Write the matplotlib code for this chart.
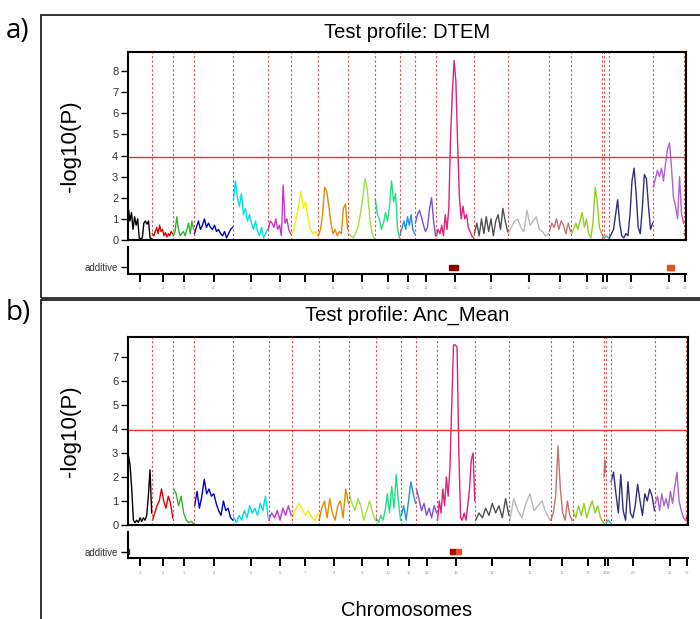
import numpy as np
import matplotlib.pyplot as plt
from matplotlib.patches import Rectangle

plt.rcParams['font.family'] = ['Liberation Sans', 'DejaVu Sans']

# chromosome lengths (cM-like units) and colours
chrom_names = [str(i) for i in range(1, 23)]
chrom_len = [120, 105, 105, 195, 175, 115, 135, 150, 135, 125, 75,
             105, 190, 170, 205, 110, 155, 10, 25, 220, 155, 10]
chrom_col = ['#000000', '#e00000', '#30b030', '#0000c8', '#00e0e0', '#d030d0',
             '#f0f000', '#e08a00', '#a0e040', '#20e080', '#2090e0', '#7a50d0',
             '#e0207a', '#505050', '#b8b8b8', '#c87070', '#90d020', '#a08060',
             '#20c0c0', '#30307a', '#b060d0', '#800000']

# -log10(P) profile, panel a (DTEM), one list per chromosome
dtem_lod = [
    [1.5, 0.9, 1.3, 0.5, 1.1, 0.7, 1.0, 0.1, 0.05, 0.1, 0.8, 0.9, 0.75, 0.9, 0.1, 0.05],
    [0.3, 0.2, 0.4, 0.6, 0.3, 0.7, 0.4, 0.5, 0.2, 0.35, 0.15, 0.3, 0.2, 0.4, 0.3],
    [0.2, 0.4, 1.1, 0.5, 0.2, 0.3, 0.4, 0.2, 0.5, 0.8, 0.3, 0.9, 0.5],
    [0.3, 0.6, 0.9, 0.5, 0.7, 1.0, 0.6, 0.8, 0.6, 0.5, 0.7, 0.4, 0.5, 0.3, 0.2,
     0.4, 0.1, 0.3, 0.5, 0.6],
    [1.9, 2.8, 2.0, 1.6, 2.2, 1.2, 1.5, 0.9, 1.2, 0.8, 0.5, 0.9, 0.4, 0.2, 0.6,
     0.1, 0.3, 0.5],
    [0.5, 0.9, 0.8, 0.6, 1.0, 0.5, 0.7, 0.2, 2.6, 0.8, 1.0, 0.5, 0.3],
    [0.2, 0.5, 1.0, 1.6, 2.3, 1.5, 1.8, 1.0, 0.5, 0.3, 0.4, 0.2],
    [0.2, 0.5, 1.2, 2.5, 2.3, 1.6, 0.8, 0.3, 0.5, 0.2, 0.4, 0.3, 1.5, 1.7, 0.5],
    [0.3, 0.2, 0.1, 0.3, 0.6, 1.2, 2.0, 2.9, 2.3, 1.0, 0.3, 0.0],
    [1.9, 1.2, 1.0, 0.5, 0.8, 1.3, 0.9, 1.6, 2.8, 1.8, 2.2, 0.5, 0.1],
    [0.3, 0.6, 0.9, 0.5, 1.1, 0.7, 1.2, 0.5, 0.3],
    [0.8, 1.2, 1.4, 1.1, 0.7, 0.4, 0.6, 1.5, 2.0, 0.9, 0.2],
    [0.2, 0.5, 0.3, 0.7, 0.2, 1.2, 0.5, 1.5, 4.9, 7.0, 8.5, 7.5, 4.5, 2.0, 1.0,
     1.6, 1.0, 1.2, 0.6, 0.4, 0.2, 0.1],
    [0.3, 0.8, 0.2, 1.0, 0.3, 1.1, 0.4, 1.0, 0.2, 0.9, 1.2, 0.5, 1.5, 0.9, 0.4],
    [0.3, 0.6, 0.9, 1.0, 0.6, 0.4, 1.4, 0.7, 0.9, 1.1, 0.5, 0.4, 0.2, 0.3],
    [0.4, 0.8, 0.6, 1.0, 0.5, 0.9, 0.7, 0.3, 0.8, 0.4],
    [0.3, 0.5, 0.8, 0.5, 0.9, 1.3, 0.6, 1.0, 0.3, 0.1, 0.8, 2.5, 1.8, 0.6, 0.3],
    [0.1, 0.15],
    [0.1, 0.2, 0.1],
    [0.1, 0.3, 0.5, 1.2, 1.9, 0.8, 0.2, 0.1, 0.3, 0.2, 1.2, 2.8, 3.4, 2.2, 0.6,
     0.3, 1.5, 3.1, 2.9, 1.6, 0.5, 0.8],
    [2.5, 2.9, 3.3, 3.0, 3.4, 2.8, 3.6, 4.3, 4.6, 3.4, 2.0, 1.6, 1.0, 3.0, 1.2, 0.8],
    [0.3, 0.2],
]

# -log10(P) profile, panel b (Anc_Mean)
anc_lod = [
    [2.9, 2.5, 1.5, 0.2, 0.1, 0.2, 0.1, 0.3, 0.15, 0.3, 0.2, 0.4, 1.2, 2.3, 0.5],
    [0.2, 0.5, 0.8, 1.0, 1.5, 1.0, 0.7, 1.2, 0.9, 0.3],
    [1.5, 1.3, 0.8, 1.2, 0.5, 0.2, 0.1, 0.15, 0.05],
    [0.8, 1.4, 0.7, 1.2, 1.9, 1.3, 1.5, 1.2, 1.3, 0.9, 0.6, 0.4, 1.0, 0.6, 0.7,
     0.3, 0.2],
    [0.3, 0.1, 0.4, 0.2, 0.6, 0.3, 0.8, 0.5, 0.7, 0.4, 0.9, 0.6, 1.2, 0.3],
    [0.2, 0.5, 0.3, 0.6, 0.2, 0.7, 0.4, 0.8, 0.4],
    [0.3, 0.6, 0.9, 0.7, 0.4, 0.6, 0.3, 0.2, 0.5],
    [0.2, 0.7, 1.0, 0.3, 1.1, 0.5, 0.2, 0.8, 1.0, 0.3, 1.5, 0.9],
    [1.3, 0.9, 0.6, 1.1, 0.8, 0.2, 0.6, 1.0, 0.5, 0.2],
    [0.3, 0.1, 0.4, 0.2, 0.6, 1.3, 0.5, 1.6, 0.7, 2.1, 1.0, 0.2],
    [0.4, 0.8, 0.2, 1.0, 1.8, 1.3, 0.9],
    [1.5, 1.1, 0.6, 0.9, 0.4, 0.7, 0.3, 0.8, 0.5],
    [0.2, 1.0, 0.5, 1.5, 0.8, 2.0, 1.2, 2.4, 5.0, 7.5, 7.5, 7.4, 3.0, 0.3, 0.2,
     0.5, 0.2, 0.8, 1.5, 2.7, 3.0, 1.0],
    [0.2, 0.5, 0.3, 0.7, 0.4, 0.9, 0.5, 0.8, 0.3, 1.1, 0.4],
    [0.2, 1.1, 0.6, 0.3, 0.9, 1.3, 0.6, 0.8, 1.0, 0.5, 0.2],
    [0.2, 0.5, 1.2, 3.3, 1.5, 0.5, 0.2, 1.0, 0.4, 0.2],
    [0.6, 0.3, 0.8, 0.4, 0.9, 0.3, 0.7, 1.0, 0.5, 0.8, 0.3, 0.1],
    [2.0, 2.7, 2.2],
    [0.1, 0.2, 0.1],
    [1.8, 2.2, 1.3, 0.5, 2.1, 0.6, 0.2, 1.8, 0.5, 0.3, 0.8, 1.7, 1.0, 0.4, 1.3,
     1.0, 1.5, 1.2, 0.6],
    [0.9, 1.2, 0.6, 1.3, 0.8, 1.1, 0.7, 1.4, 0.9, 1.6, 2.2, 1.0, 0.6, 0.3, 0.2],
    [0.3, 0.1],
]

thresholds = [3.93, 3.96]
titles = ['Test profile: DTEM', 'Test profile: Anc_Mean']

# significant additive effects: chromosome, start, end, colour
add_a_chr = [13, 21]
add_a_start = [65, 70]
add_a_end = [110, 105]
add_a_col = ['#8b0000', '#e8501a']
add_b_chr = [1, 13, 13]
add_b_start = [0, 65, 95]
add_b_end = [6, 95, 120]
add_b_col = ['#2040a0', '#b00000', '#e85020']

starts = np.concatenate([[0], np.cumsum(chrom_len)[:-1]])
ends = np.cumsum(chrom_len)
centers = (starts + ends) / 2
total = ends[-1]

fig = plt.figure(figsize=(7, 6.19), dpi=100)
W, H = 700, 619


def fig_rect(x0, y0, x1, y1):
    # pixel box (top-left origin) -> figure fraction [l, b, w, h]
    return [x0 / W, 1 - y1 / H, (x1 - x0) / W, (y1 - y0) / H]


# outer frames
for (x0, y0, x1, y1) in [(41, 15, 705, 298), (41, 300, 705, 630)]:
    l, b, w, h = fig_rect(x0, y0, x1, y1)
    fig.patches.append(Rectangle((l, b), w, h, transform=fig.transFigure,
                                 fill=False, lw=1.3, ec='#222222'))

fig.text(6 / W, 1 - 31 / H, 'a)', fontsize=20, family=['Open Sans', 'DejaVu Sans'],
         va='center', ha='left')
fig.text(6 / W, 1 - 313 / H, 'b)', fontsize=20, family=['Open Sans', 'DejaVu Sans'],
         va='center', ha='left')

main_boxes = [(128, 52, 686, 240), (128, 337, 688, 525)]
add_boxes = [(128, 247, 686, 274), (128, 532, 688, 558)]
ytops = [8.9, 7.83]
yticks = [range(0, 9), range(0, 8)]
lods = [dtem_lod, anc_lod]
adds = [(add_a_chr, add_a_start, add_a_end, add_a_col),
        (add_b_chr, add_b_start, add_b_end, add_b_col)]
title_y = [33, 315]

for p in range(2):
    ax = fig.add_axes(fig_rect(*main_boxes[p]))
    for i in range(len(chrom_len)):
        y = lods[p][i]
        x = np.linspace(starts[i] + 2, ends[i] - 2, len(y))
        ax.plot(x, y, color=chrom_col[i], lw=1.0)
    for b in ends[:-1]:
        ax.axvline(b, color='#e05050', lw=0.8, ls=(0, (2, 2)))
    ax.axhline(thresholds[p], color='#f03030', lw=1.0)
    ax.set_xlim(0, total)
    ax.set_ylim(0, ytops[p])
    ax.set_xticks([])
    ax.set_yticks(list(yticks[p]))
    ax.tick_params(axis='y', direction='out', length=5, width=1, labelsize=8,
                   labelcolor='#333333', pad=2)
    for s in ax.spines.values():
        s.set_linewidth(1.5)
    ax.set_ylabel('-log10(P)', fontsize=16, labelpad=22)
    fig.text(407 / W, 1 - title_y[p] / H, titles[p], fontsize=14.5,
             ha='center', va='center')

    ax2 = fig.add_axes(fig_rect(*add_boxes[p]))
    ac, a_s, a_e, a_col = adds[p]
    for c, s0, e0, col in zip(ac, a_s, a_e, a_col):
        ax2.broken_barh([(starts[c - 1] + s0, e0 - s0)], (0.16, 0.18), color=col)
    ax2.set_xlim(0, total)
    ax2.set_ylim(0, 1)
    ax2.spines['top'].set_visible(False)
    ax2.spines['right'].set_visible(False)
    ax2.spines['left'].set_linewidth(1.5)
    ax2.spines['bottom'].set_linewidth(1.5)
    ax2.set_yticks([0.25])
    ax2.set_yticklabels(['additive'])
    ax2.tick_params(axis='y', direction='out', length=5, width=1, labelsize=7,
                    labelcolor='#333333', pad=2)
    ax2.set_xticks(centers)
    ax2.set_xticklabels(chrom_names)
    ax2.tick_params(axis='x', direction='out', length=6, width=1.4, labelsize=3,
                    labelcolor='#999999', pad=3)

fig.text(407 / W, 1 - 610 / H, 'Chromosomes', fontsize=14.5, ha='center', va='center')

fig.savefig('out.png', dpi=100)
